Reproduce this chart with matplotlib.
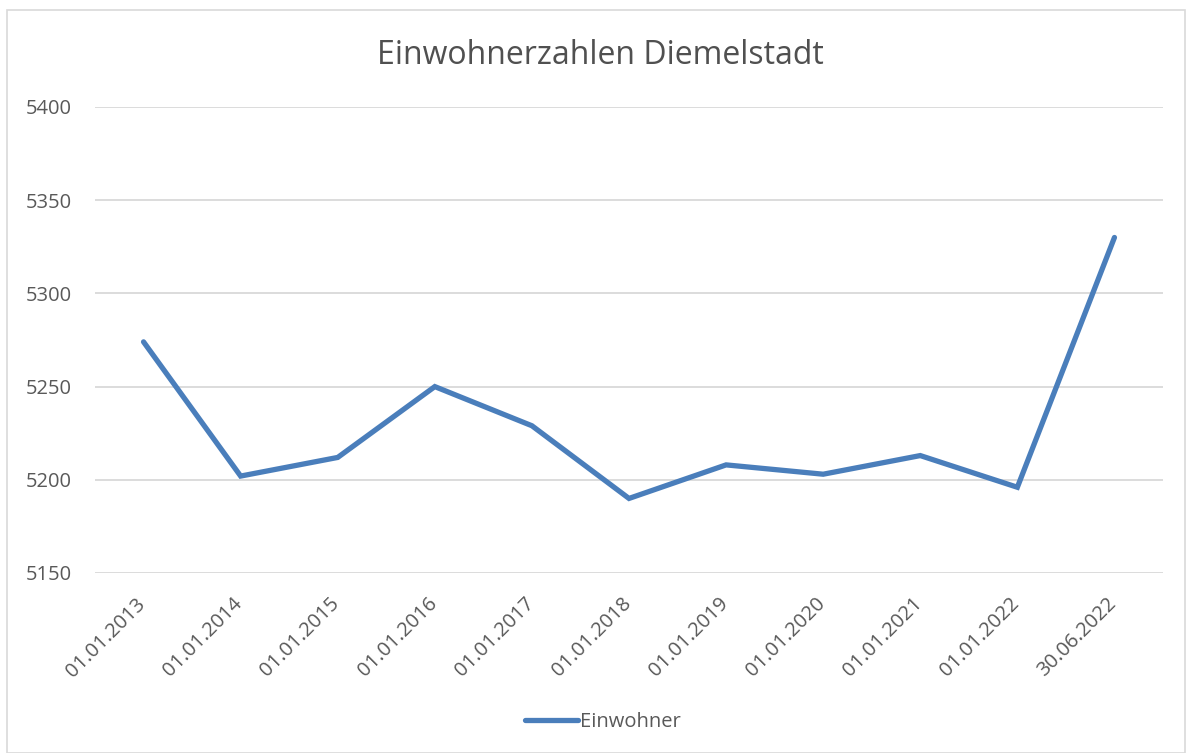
import matplotlib
matplotlib.use("Agg")
import matplotlib.pyplot as plt
from matplotlib.patches import Rectangle
from matplotlib.transforms import ScaledTranslation

dates = ["01.01.2013", "01.01.2014", "01.01.2015", "01.01.2016", "01.01.2017",
         "01.01.2018", "01.01.2019", "01.01.2020", "01.01.2021", "01.01.2022",
         "30.06.2022"]
einwohner = [5274, 5202, 5212, 5250, 5229, 5190, 5208, 5203, 5213, 5196, 5330]
yticks = [5150, 5200, 5250, 5300, 5350, 5400]

plt.rcParams['font.family'] = ['Open Sans', 'DejaVu Sans']
txt = '#595959'

fig = plt.figure(figsize=(11.87, 7.53), dpi=100)
fig.patches.append(Rectangle((7/1187, 0), (1185-7)/1187, 1-10/753, transform=fig.transFigure,
                             fill=False, edgecolor='#d9d9d9', linewidth=1.2))
ax = fig.add_axes([95/1187, 1-573/753, (1163-95)/1187, (573-107)/753])

x = list(range(len(dates)))
ax.plot(x, einwohner, color='#4a7ebb', linewidth=3.8, solid_capstyle='round',
        solid_joinstyle='miter', label='Einwohner', zorder=3)
ax.set_xlim(-0.5, len(dates) - 0.5)
ax.set_ylim(5150, 5400)
ax.set_yticks(yticks)
ax.set_yticklabels([str(v) for v in yticks])
ax.set_xticks(x)
ax.set_xticklabels(dates, rotation=45, ha='right', rotation_mode='anchor')
ax.grid(axis='y', color='#d9d9d9', linewidth=1.3)
ax.set_axisbelow(True)
for s in ax.spines.values():
    s.set_visible(False)
ax.tick_params(axis='both', length=0, labelsize=14.5, colors=txt)
ax.tick_params(axis='y', pad=16.5)
ax.tick_params(axis='x', pad=10)
off = ScaledTranslation(-0.08, -0.07, fig.dpi_scale_trans)
for lab in ax.get_xticklabels():
    lab.set_transform(lab.get_transform() + off)

fig.text(600/1187, 1-55/753, 'Einwohnerzahlen Diemelstadt', ha='center', va='center',
         fontsize=23, color='#505050')
fig.legend(loc='center', bbox_to_anchor=(603/1187, 1-722/753), frameon=False,
           fontsize=14.5, labelcolor=txt, handlelength=2.6, handletextpad=0.1)

fig.savefig('out.png', dpi=100)
